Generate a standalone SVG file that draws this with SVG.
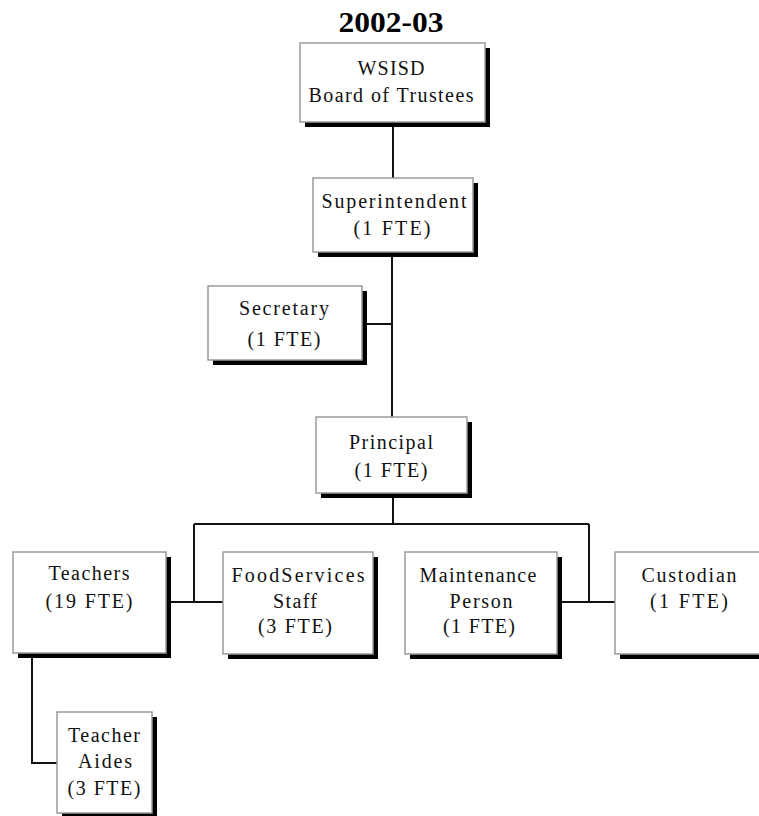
<svg xmlns="http://www.w3.org/2000/svg" width="759" height="816" viewBox="0 0 759 816">
<defs>
<style>
.box{fill:#fff;stroke:#9a9a9a;stroke-width:1.5}
.sh{fill:#000}
.t{font-family:"Liberation Serif","Times New Roman",serif;font-size:20px;fill:#111;text-anchor:middle}
.title{font-family:"Liberation Serif","Times New Roman",serif;font-size:30px;font-weight:bold;fill:#000;text-anchor:middle}
.c{stroke:#111;stroke-width:2;fill:none}
</style>
</defs>
<rect width="759" height="816" fill="#fff"/>
<text class="title" x="391" y="32" textLength="105" lengthAdjust="spacingAndGlyphs">2002-03</text>
<g id="connectors">
<path class="c" d="M393 122V178"/>
<path class="c" d="M392 252V417"/>
<path class="c" d="M366 324H392"/>
<path class="c" d="M393 493V524"/>
<path class="c" d="M194 524H589"/>
<path class="c" d="M194 524V602M170 602H223"/>
<path class="c" d="M589 524V602M561 602H615"/>
<path class="c" d="M32 657V763H57"/>
</g>
<g id="board">
<rect class="sh" x="305" y="48" width="185" height="79"/>
<rect class="box" x="300" y="43" width="185" height="79"/>
<text class="t" x="391" y="75" textLength="67" lengthAdjust="spacing">WSISD</text>
<text class="t" x="391" y="102" textLength="165" lengthAdjust="spacing">Board of Trustees</text>
</g>
<g id="superintendent">
<rect class="sh" x="318" y="183" width="160" height="74"/>
<rect class="box" x="313" y="178" width="160" height="74"/>
<text class="t" x="394" y="208" textLength="145" lengthAdjust="spacing">Superintendent</text>
<text class="t" x="392" y="235" textLength="77" lengthAdjust="spacing">(1 FTE)</text>
</g>
<g id="secretary">
<rect class="sh" x="213" y="291" width="154" height="74"/>
<rect class="box" x="208" y="286" width="154" height="74"/>
<text class="t" x="284" y="315" textLength="90" lengthAdjust="spacing">Secretary</text>
<text class="t" x="284" y="346" textLength="73" lengthAdjust="spacing">(1 FTE)</text>
</g>
<g id="principal">
<rect class="sh" x="321" y="422" width="151" height="76"/>
<rect class="box" x="316" y="417" width="151" height="76"/>
<text class="t" x="391" y="449" textLength="84" lengthAdjust="spacing">Principal</text>
<text class="t" x="391" y="477" textLength="73" lengthAdjust="spacing">(1 FTE)</text>
</g>
<g id="teachers">
<rect class="sh" x="18" y="557" width="153" height="101"/>
<rect class="box" x="13" y="552" width="153" height="101"/>
<text class="t" x="89" y="580" textLength="81" lengthAdjust="spacing">Teachers</text>
<text class="t" x="89" y="608" textLength="87" lengthAdjust="spacing">(19 FTE)</text>
</g>
<g id="foodservices">
<rect class="sh" x="228" y="557" width="150" height="102"/>
<rect class="box" x="223" y="552" width="150" height="102"/>
<text class="t" x="298" y="582" textLength="133" lengthAdjust="spacing">FoodServices</text>
<text class="t" x="295" y="608" textLength="44" lengthAdjust="spacing">Staff</text>
<text class="t" x="295" y="633" textLength="74" lengthAdjust="spacing">(3 FTE)</text>
</g>
<g id="maintenance">
<rect class="sh" x="410" y="557" width="152" height="102"/>
<rect class="box" x="405" y="552" width="152" height="102"/>
<text class="t" x="478" y="582" textLength="117" lengthAdjust="spacing">Maintenance</text>
<text class="t" x="481" y="608" textLength="63" lengthAdjust="spacing">Person</text>
<text class="t" x="479" y="633" textLength="72" lengthAdjust="spacing">(1 FTE)</text>
</g>
<g id="custodian">
<rect class="sh" x="620" y="557" width="150" height="102"/>
<rect class="box" x="615" y="552" width="150" height="102"/>
<text class="t" x="689" y="582" textLength="95" lengthAdjust="spacing">Custodian</text>
<text class="t" x="689" y="608" textLength="78" lengthAdjust="spacing">(1 FTE)</text>
</g>
<g id="teacher-aides">
<rect class="sh" x="62" y="717" width="95" height="101"/>
<rect class="box" x="57" y="712" width="95" height="101"/>
<text class="t" x="104" y="742" textLength="72" lengthAdjust="spacing">Teacher</text>
<text class="t" x="105" y="768" textLength="54" lengthAdjust="spacing">Aides</text>
<text class="t" x="104" y="795" textLength="73" lengthAdjust="spacing">(3 FTE)</text>
</g>
</svg>
